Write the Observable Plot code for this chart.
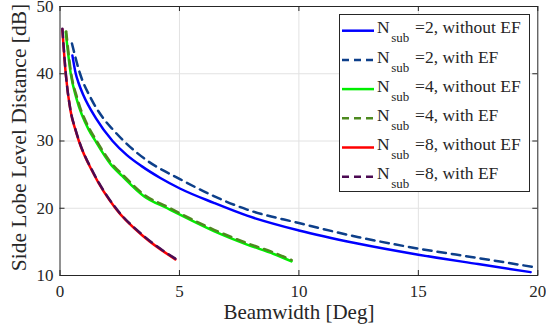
<!DOCTYPE html>
<html><head><meta charset="utf-8">
<script src="https://cdn.jsdelivr.net/npm/d3@7"></script>
<script src="https://cdn.jsdelivr.net/npm/@observablehq/plot@0.6"></script>
<style>body{margin:0;background:#fff;} svg{display:block;} svg, svg text{font-family:'Liberation Serif','Times New Roman','DejaVu Serif',serif !important;}</style>
</head><body><div id="chart"></div>
<script>
// ---- data ----
const xTicks = [0, 5, 10, 15, 20];
const yTicks = [10, 20, 30, 40, 50];
const xLabel = "Beamwidth [Deg]";
const yLabel = "Side Lobe Level Distance [dB]";

const seriesKeys   = ["n2", "n2ef", "n4", "n4ef", "n8", "n8ef"];
const seriesNsub   = ["2", "2", "4", "4", "8", "8"];
const seriesSuffix = [", without EF", ", with EF", ", without EF", ", with EF", ", without EF", ", with EF"];
const seriesColor  = ["#0000ff", "#0d3f8a", "#00ee00", "#4d8a1f", "#ff0000", "#4b0a52"];
const seriesDashed = [false, true, false, true, false, true];

const x_n2   = [0.52, 0.66, 0.77, 0.98, 1.5, 2.2, 2.8, 3.4, 4.2, 5.04, 6.44, 7.83, 10, 12.4, 15, 17.5, 19.7];
const y_n2   = [42.7, 40.0, 38.7, 36.8, 33.4, 30.0, 27.9, 26.3, 24.5, 22.9, 20.8, 18.9, 16.7, 14.8, 13.1, 11.7, 10.5];
const x_n2ef = [0.5, 0.84, 1.3, 1.83, 2.24, 2.67, 3.6, 5.04, 6.44, 7.83, 10, 12.5, 15, 17.5, 19.75];
const y_n2ef = [44.5, 40.0, 36.3, 33.3, 31.6, 30.0, 27.2, 24.3, 21.8, 19.8, 17.8, 15.7, 14.0, 12.6, 11.3];
const x_n4   = [0.24, 0.45, 0.7, 1.2, 1.45, 2.11, 2.6, 3.51, 4.49, 5.04, 6.44, 7.83, 8.95, 9.69];
const y_n4   = [46.2, 40.0, 36.2, 31.7, 30.2, 26.6, 24.8, 21.8, 20.0, 19.0, 16.6, 14.6, 13.2, 12.1];
const x_n4ef = [0.26, 0.46, 0.72, 1.22, 1.47, 2.13, 2.62, 3.53, 4.5, 5.05, 6.45, 7.84, 8.96, 9.7];
const y_n4ef = [46.3, 40.2, 36.4, 31.9, 30.4, 26.8, 25.0, 22.0, 20.2, 19.2, 16.8, 14.8, 13.4, 12.3];
const x_n8   = [0.1, 0.24, 0.44, 0.65, 0.79, 1.41, 2.32, 3.5, 4.83];
const y_n8   = [46.6, 40.0, 34.5, 31.6, 30.0, 25.1, 20.0, 15.8, 12.4];
const x_n8ef = [0.1, 0.24, 0.44, 0.65, 0.79, 1.41, 2.32, 3.5, 4.83];
const y_n8ef = [46.7, 40.1, 34.6, 31.7, 30.1, 25.2, 20.1, 15.9, 12.5];

const seriesX = [x_n2, x_n2ef, x_n4, x_n4ef, x_n8, x_n8ef];
const seriesY = [y_n2, y_n2ef, y_n4, y_n4ef, y_n8, y_n8ef];

// ---- layout ----
const W = 546, H = 331;
const mL = 59.5, mR = 8.7, mT = 6, mB = 56;
const pw = W - mL - mR, ph = H - mT - mB;
const axisColor = "#262626";
const font = "'Liberation Serif', 'Times New Roman', 'DejaVu Serif', serif";

const lineMarks = seriesKeys.map((k, i) => {
  const rows = seriesX[i].map((x, j) => ({x, y: seriesY[i][j]}));
  return Plot.line(rows, {
    x: "x", y: "y", stroke: seriesColor[i], strokeWidth: 2.5,
    strokeDasharray: seriesDashed[i] ? "8.5,6" : null,
    curve: "monotone-x"
  });
});

const plot = Plot.plot({
  width: W, height: H,
  marginLeft: mL, marginRight: mR, marginTop: mT, marginBottom: mB,
  style: {fontFamily: font, background: "#fff", color: axisColor},
  x: {domain: [0, 20]},
  y: {domain: [10, 50]},
  marks: [
    Plot.ruleX(xTicks.slice(1, -1), {x: d => d, stroke: "#e2e2e2", strokeWidth: 1}),
    Plot.ruleY(yTicks.slice(1, -1), {y: d => d, stroke: "#e2e2e2", strokeWidth: 1}),
    ...lineMarks,
    Plot.frame({stroke: axisColor, strokeWidth: 1}),
    // inward ticks on all four sides
    Plot.ruleX(xTicks, {x: d => d, stroke: axisColor, insetTop: ph - 5}),
    Plot.ruleX(xTicks, {x: d => d, stroke: axisColor, insetBottom: ph - 5}),
    Plot.ruleY(yTicks, {y: d => d, stroke: axisColor, insetRight: pw - 5}),
    Plot.ruleY(yTicks, {y: d => d, stroke: axisColor, insetLeft: pw - 5}),
    Plot.axisX(xTicks, {tickSize: 0, tickPadding: 9, fontSize: 17, label: null, fill: axisColor}),
    Plot.axisY(yTicks, {tickSize: 0, tickPadding: 6.5, fontSize: 17, label: null, fill: axisColor}),
    Plot.text([xLabel], {frameAnchor: "bottom", lineAnchor: "middle", textAnchor: "middle", dy: 37, fontSize: 21, fill: axisColor}),
    Plot.text([yLabel], {frameAnchor: "left", lineAnchor: "middle", textAnchor: "middle", rotate: -90, dx: -41.2, dy: -3.5, fontSize: 21.5, fill: axisColor})
  ]
});

// ---- legend (inside, top right) ----
const svg = d3.select(plot);
const lg = svg.append("g").attr("font-family", font).attr("fill", axisColor).attr("text-anchor", "start");
lg.append("rect").attr("x", 339.5).attr("y", 14.5).attr("width", 190).attr("height", 177)
  .attr("fill", "#fff").attr("stroke", axisColor).attr("stroke-width", 1);
seriesKeys.forEach((k, i) => {
  const y0 = 30.7 + 29.2 * i;
  lg.append("line").attr("x1", 342).attr("x2", 374).attr("y1", y0).attr("y2", y0)
    .attr("stroke", seriesColor[i]).attr("stroke-width", 2.5)
    .attr("stroke-dasharray", seriesDashed[i] ? "7,5" : null);
  const t = lg.append("text").attr("x", 377).attr("y", y0 + 2.6).attr("font-size", 17.5).attr("text-anchor", "start");
  t.append("tspan").text("N");
  t.append("tspan").attr("font-size", 13).attr("dx", 1.5).attr("dy", 9).text("sub");
  t.append("tspan").attr("dy", -9).attr("dx", 1.5).text(" =" + seriesNsub[i] + seriesSuffix[i]);
});

document.getElementById("chart").appendChild(plot);
</script>
</body></html>
